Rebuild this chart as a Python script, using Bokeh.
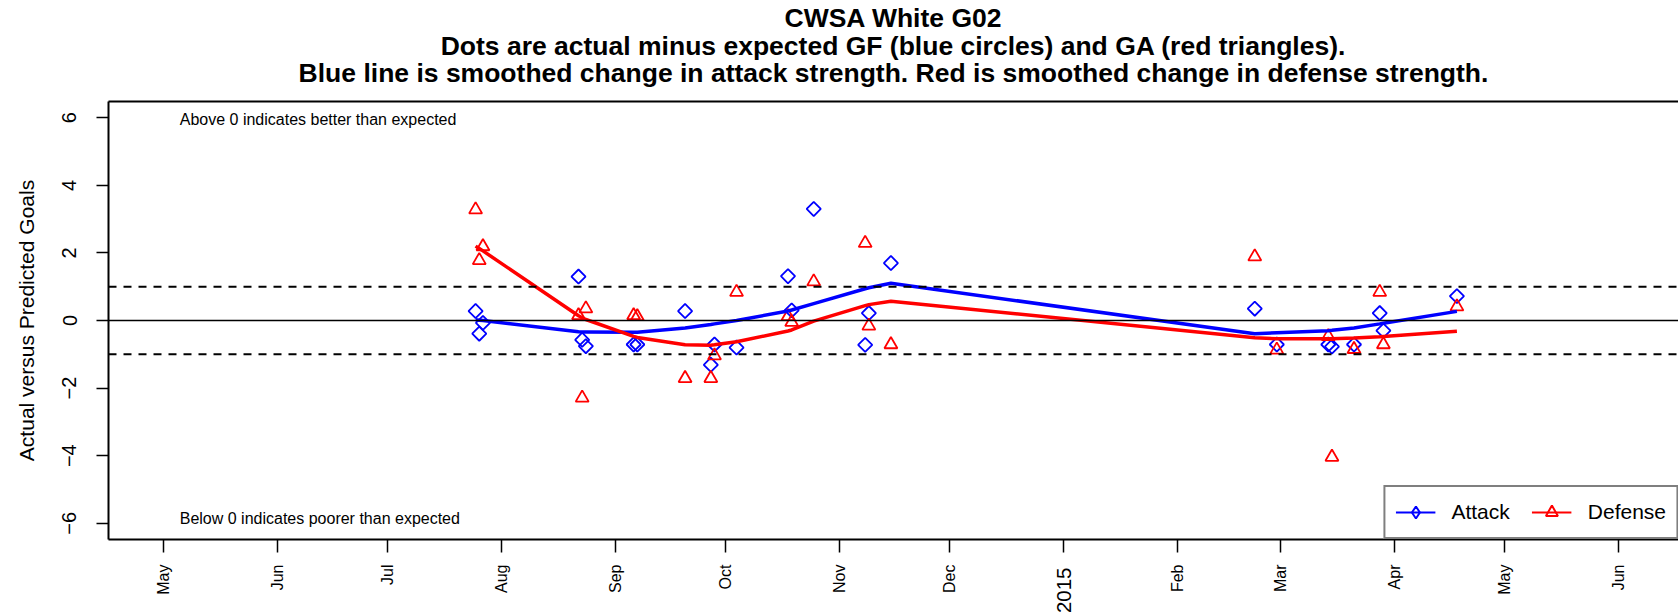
import pandas as pd
from math import pi
from bokeh.plotting import figure
from bokeh.models import (Range1d, FixedTicker, CustomJSTickFormatter, Span, Label,
                          Legend, LegendItem, DatetimeAxis, Title)
from bokeh.embed import file_html
from bokeh.resources import INLINE

# ---------------- data ----------------
game_dates = ["2014-07-25", "2014-07-26", "2014-07-27",
              "2014-08-22", "2014-08-23", "2014-08-24",
              "2014-09-06", "2014-09-07", "2014-09-20",
              "2014-09-27", "2014-09-28", "2014-10-04",
              "2014-10-18", "2014-10-19", "2014-10-25",
              "2014-11-08", "2014-11-09", "2014-11-15",
              "2015-02-22", "2015-02-28", "2015-03-14",
              "2015-03-15", "2015-03-21", "2015-03-28",
              "2015-03-29", "2015-04-18"]
attack_diff = [0.28, -0.39, -0.07,
               1.30, -0.57, -0.76,
               -0.71, -0.71, 0.28,
               -1.31, -0.71, -0.80,
               1.31, 0.30, 3.30,
               -0.72, 0.22, 1.70,
               0.35, -0.71, -0.71,
               -0.77, -0.71, 0.22,
               -0.30, 0.72]
defense_diff = [3.28, 1.78, 2.19,
                0.15, -2.29, 0.35,
                0.15, 0.12, -1.71,
                -1.71, -1.04, 0.84,
                0.12, -0.05, 1.15,
                2.29, -0.16, -0.71,
                1.89, -0.87, -0.47,
                -4.04, -0.85, 0.84,
                -0.71, 0.41]
attack_smooth = [0.02, 0.01, 0.00,
                 -0.33, -0.34, -0.34,
                 -0.35, -0.35, -0.22,
                 -0.12, -0.10, 0.00,
                 0.28, 0.31, 0.50,
                 0.94, 0.97, 1.10,
                 -0.39, -0.36, -0.30,
                 -0.29, -0.22, -0.10,
                 -0.08, 0.27]
defense_smooth = [2.20, 2.13, 2.06,
                  0.14, 0.08, 0.03,
                  -0.47, -0.50, -0.72,
                  -0.73, -0.72, -0.63,
                  -0.31, -0.28, -0.02,
                  0.44, 0.47, 0.57,
                  -0.51, -0.54, -0.54,
                  -0.54, -0.52, -0.48,
                  -0.47, -0.32]
month_names = ["", "Feb", "Mar", "Apr", "May", "Jun", "Jul", "Aug", "Sep", "Oct", "Nov", "Dec"]
year_label = "2015"
y_ticks = [-6, -4, -2, 0, 2, 4, 6]
title_lines = ["CWSA White G02",
               "Dots are actual minus expected GF (blue circles) and GA (red triangles).",
               "Blue line is smoothed change in attack strength. Red is smoothed change in defense strength."]
note_above = "Above 0 indicates better than expected"
note_below = "Below 0 indicates poorer than expected"

BLUE = "#0000FF"
RED = "#FF0000"
FONT = "Liberation Sans"
NAN = float("nan")

dates = pd.to_datetime(game_dates)
month_ticks = pd.date_range("2014-05-01", "2015-06-01", freq="MS")
tick_ms = [float(t.value // 10**6) for t in month_ticks]
jan_ms = float(pd.Timestamp("2015-01-01").value // 10**6)
y_lo, y_hi = -6.48, 6.48

p = figure(width=1678, height=616, x_axis_type="datetime",
           x_range=Range1d(pd.Timestamp("2014-04-16 02:50"), pd.Timestamp("2015-06-17 07:00")),
           y_range=Range1d(y_lo, y_hi),
           output_backend="svg", toolbar_location=None,
           min_border_left=108, min_border_right=0, min_border_top=0, min_border_bottom=77,
           title=title_lines[0])
p.outline_line_color = None
p.xgrid.visible = False
p.ygrid.visible = False
p.background_fill_color = "white"
p.border_fill_color = "white"

xa = p.below[0]   # main (bottom) datetime axis
ya = p.left[0]    # main y axis

# top border + spacer between frame and titles (axis with invisible ticks, empty labels)
top_axis = DatetimeAxis(ticker=FixedTicker(ticks=tick_ms), major_tick_out=15, major_tick_in=0,
                        major_tick_line_color=None, minor_tick_line_color=None,
                        formatter=CustomJSTickFormatter(code="return '';"),
                        major_label_text_font_size="0px",
                        major_label_standoff=0, axis_line_color="black", axis_line_width=2)
p.add_layout(top_axis, "above")

# titles: first added sits nearest the frame; p.title is outermost
title_kw = dict(text_font=FONT, text_font_size="26.5px", text_font_style="bold",
                text_color="black", align="center")
p.add_layout(Title(text=title_lines[2], standoff=-2, **title_kw), "above")
p.add_layout(Title(text=title_lines[1], standoff=-8, **title_kw), "above")
p.title.text_font = FONT
p.title.text_font_size = "26.5px"
p.title.text_font_style = "bold"
p.title.text_color = "black"
p.title.align = "center"
p.title.standoff = 0

# x axis (months)
xa.ticker = FixedTicker(ticks=tick_ms)
xa.formatter = CustomJSTickFormatter(args=dict(names=month_names),
                                     code="return names[new Date(tick).getUTCMonth()];")
xa.major_label_orientation = pi / 2
xa.major_label_text_font = FONT
xa.major_label_text_font_size = "16px"
xa.major_label_text_color = "black"
xa.major_tick_out = 13
xa.major_tick_in = 0
xa.minor_tick_line_color = None
xa.major_tick_line_width = 1.5
xa.major_tick_line_color = "black"
xa.axis_line_width = 2
xa.axis_line_color = "black"
xa.major_label_standoff = 12

# second axis carrying only the larger year label
xa2 = DatetimeAxis(ticker=FixedTicker(ticks=[jan_ms]),
                   formatter=CustomJSTickFormatter(args=dict(label=year_label), code="return label;"),
                   major_label_orientation=pi / 2, major_label_text_font=FONT,
                   major_label_text_font_size="20.5px", major_label_text_color="black",
                   major_tick_line_color=None, major_tick_out=0, major_tick_in=0,
                   minor_tick_line_color=None, axis_line_color=None,
                   major_label_standoff=-30)
p.add_layout(xa2, "below")

# y axis
ya.ticker = FixedTicker(ticks=y_ticks)
ya.formatter = CustomJSTickFormatter(code="return tick < 0 ? '\u2212' + Math.abs(tick) : String(tick);")
ya.major_label_orientation = "parallel"
ya.major_label_text_font = FONT
ya.major_label_text_font_size = "20px"
ya.major_label_text_color = "black"
ya.major_tick_out = 12
ya.major_tick_in = 0
ya.minor_tick_line_color = None
ya.major_tick_line_width = 1.5
ya.major_tick_line_color = "black"
ya.axis_line_width = 2
ya.axis_line_color = "black"
ya.major_label_standoff = 20
ya.axis_label = "Actual versus Predicted Goals"
ya.axis_label_text_font = FONT
ya.axis_label_text_font_size = "21px"
ya.axis_label_text_font_style = "normal"
ya.axis_label_text_color = "black"
ya.axis_label_standoff = 22

# reference lines
p.add_layout(Span(location=0, dimension="width", line_color="black", line_width=1.7))
for loc in (1, -1):
    p.add_layout(Span(location=loc, dimension="width", line_color="black",
                      line_width=2, line_dash="8 7"))

# points and smoothed lines
p.scatter(dates, attack_diff, marker="square", angle=pi / 4, size=10,
          fill_color=None, line_color=BLUE, line_width=1.8)
p.scatter(dates, defense_diff, marker="triangle", size=13,
          fill_color=None, line_color=RED, line_width=1.8)
p.line(dates, attack_smooth, line_color=BLUE, line_width=3.5)
p.line(dates, defense_smooth, line_color=RED, line_width=3.5)

# annotation texts
note_x = float(pd.Timestamp("2014-05-05 12:00").value // 10**6)
p.add_layout(Label(x=note_x, y=5.95, text=note_above,
                   text_font=FONT, text_font_size="16px", text_align="left",
                   text_baseline="middle", text_color="black"))
p.add_layout(Label(x=note_x, y=-5.86, text=note_below,
                   text_font=FONT, text_font_size="16px", text_align="left",
                   text_baseline="middle", text_color="black"))

# legend (renderers without visible data, used only for legend glyphs)
la = p.line([NAN], [NAN], line_color=BLUE, line_width=2)
lm = p.scatter([NAN], [NAN], marker="diamond", size=12, fill_color=None,
               line_color=BLUE, line_width=2)
da = p.line([NAN], [NAN], line_color=RED, line_width=2)
dm = p.scatter([NAN], [NAN], marker="triangle", size=12, fill_color=None,
               line_color=RED, line_width=2)
legend = Legend(items=[LegendItem(label="Attack", renderers=[la, lm]),
                       LegendItem(label="Defense", renderers=[da, dm])],
                location="bottom_right", orientation="horizontal", margin=0,
                padding=10, spacing=22, label_standoff=16, glyph_width=40,
                glyph_height=30, label_height=30,
                label_text_font=FONT, label_text_font_size="21px",
                label_text_color="black",
                border_line_color="black", border_line_width=2,
                background_fill_color="white", background_fill_alpha=1)
p.add_layout(legend, "center")

open("out.html", "w").write(file_html(p, INLINE))
